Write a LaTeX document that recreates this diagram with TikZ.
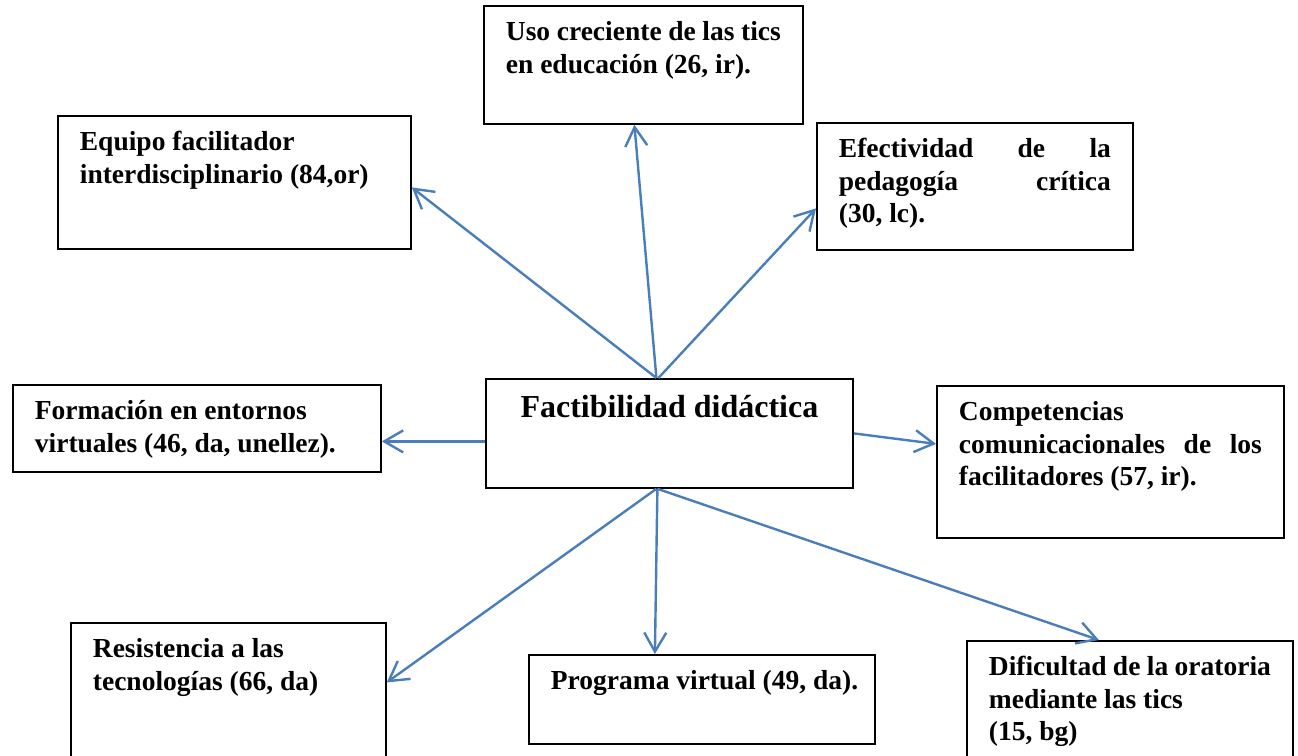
\documentclass[tikz,border=0pt]{standalone}
\usepackage{fontspec}
\setmainfont{Liberation Serif}
\usetikzlibrary{arrows.meta}
\definecolor{flecha}{RGB}{74,126,187}
% text box: width, height, text (top left, like the boxes of the figure)
\newcommand{\caja}[3]{\parbox[c][\dimexpr#2-24pt\relax][t]{\dimexpr#1-44pt\relax}{\raggedright\strut #3}}

\begin{document}
\begin{tikzpicture}[x=1pt, y=-1pt,
	box/.style = {draw, line width=1.8pt, anchor=north west, inner xsep=22pt, inner ysep=12pt, font=\bfseries\fontsize{27.5}{32.5}\selectfont},
	arr/.style = {draw=flecha, line width=2.4pt, -{Straight Barb[length=19pt, width=22pt]}}]

	\useasboundingbox (0,0) rectangle (1298,755);

	\node[box] (uso) at (483,5) {\caja{319pt}{118pt}{Uso creciente de las tics\\ en educación (26, ir).}};
	\node[box] (equ) at (57,115) {\caja{353pt}{133pt}{Equipo facilitador\\ interdisciplinario (84,or)}};
	\node[box] (efe) at (816,122) {\caja{316pt}{127pt}{\makebox[\linewidth][s]{Efectividad de la}\\ \makebox[\linewidth][s]{pedagogía crítica}\\ (30, lc).}};
	\node[box, font=\bfseries\fontsize{32}{38}\selectfont] (fac) at (485,378) {\caja{367pt}{109pt}{\centering Factibilidad didáctica}};
	\node[box] (for) at (12,384) {\caja{368pt}{87pt}{Formación en entornos\\ virtuales (46, da, unellez).}};
	\node[box] (com) at (936,385) {\caja{347pt}{152pt}{Competencias\\ \makebox[\linewidth][s]{comunicacionales de los}\\ facilitadores (57, ir).}};
	\node[box] (res) at (70,622) {\caja{315pt}{145pt}{Resistencia a las\\ tecnologías (66, da)}};
	\node[box] (pro) at (528,654) {\caja{346pt}{89pt}{\mbox{Programa virtual (49, da).}}};
	\node[box] (dif) at (966,640) {\caja{326pt}{130pt}{Dificultad de la oratoria\\ mediante las tics\\ (15, bg)}};

	\draw[arr] ([xshift=-13pt]fac.north) -- ([yshift=-5pt]equ.east);
	\draw[arr] ([xshift=-13pt]fac.north) -- ([xshift=-9pt]uso.south);
	\draw[arr] ([xshift=-11pt]fac.north) -- ([yshift=-22pt]efe.west);
	\draw[arr] ([yshift=-8pt]fac.west) -- ([yshift=-13pt]for.east);
	\draw[arr] (fac.east) -- ([yshift=18pt]com.west);
	\draw[arr] ([xshift=-13pt]fac.south) -- ([yshift=13pt]res.east);
	\draw[arr] ([xshift=-12pt]fac.south) -- ([xshift=-47pt]pro.north);
	\draw[arr] ([xshift=-12pt]fac.south) -- ([xshift=-31pt]dif.north);
\end{tikzpicture}
\end{document}
